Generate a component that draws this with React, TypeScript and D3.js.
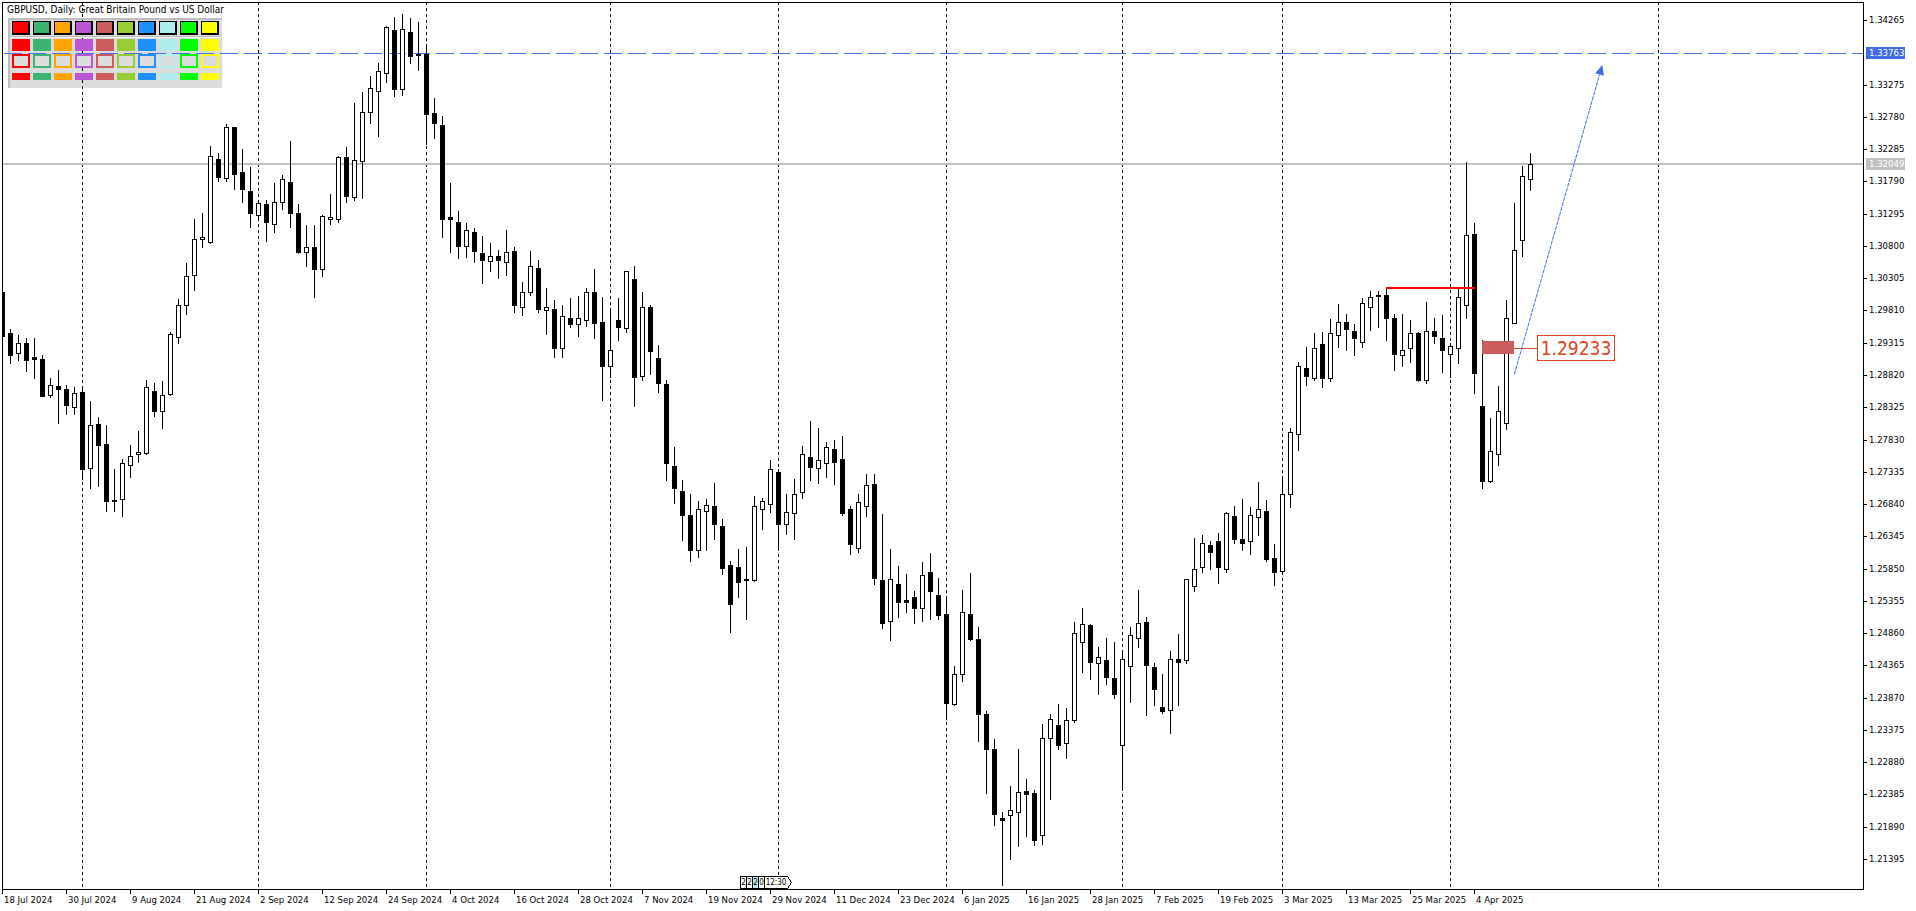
import React from 'react';
import * as d3 from 'd3';

const W = 1916;
const H = 911;
const PL = 2, PT = 2, PR = 1863, PB = 889;

const opens = [
  1.3009, 1.2946, 1.2916, 1.2931, 1.2909, 1.2907, 1.2852, 1.2865, 1.2860, 1.2833,
  1.2856, 1.2739, 1.2807, 1.2776, 1.2690, 1.2692, 1.2744, 1.2760, 1.2763, 1.2858,
  1.2827, 1.2853, 1.2940, 1.2990, 1.3035, 1.3091, 1.3086, 1.3213, 1.3184, 1.3262,
  1.3193, 1.3164, 1.3127, 1.3144, 1.3113, 1.3148, 1.3178, 1.3130, 1.3071, 1.3078,
  1.3044, 1.3121, 1.3121, 1.3216, 1.3155, 1.3210, 1.3285, 1.3318, 1.3345, 1.3411,
  1.3320, 1.3408, 1.3375, 1.3375, 1.3284, 1.3265, 1.3124, 1.3116, 1.3080, 1.3101,
  1.3069, 1.3057, 1.3065, 1.3055, 1.3072, 1.2986, 1.3010, 1.3046, 1.2981, 1.2983,
  1.2923, 1.2970, 1.2960, 1.2967, 1.3009, 1.2964, 1.2895, 1.2967, 1.2954, 1.3029,
  1.2880, 1.2987, 1.2908, 1.2868, 1.2742, 1.2704, 1.2667, 1.2613, 1.2674, 1.2681,
  1.2650, 1.2590, 1.2587, 1.2569, 1.2568, 1.2676, 1.2684, 1.2733, 1.2654, 1.2671,
  1.2702, 1.2756, 1.2739, 1.2747, 1.2768, 1.2753, 1.2676, 1.2616, 1.2681, 1.2714,
  1.2568, 1.2504, 1.2562, 1.2537, 1.2542, 1.2524, 1.2579, 1.2544, 1.2515, 1.2378,
  1.2424, 1.2515, 1.2477, 1.2362, 1.2308, 1.2202, 1.2207, 1.2211, 1.2244, 1.2240,
  1.2176, 1.2325, 1.2345, 1.2318, 1.2352, 1.2473, 1.2498, 1.2440, 1.2444, 1.2417,
  1.2314, 1.2435, 1.2478, 1.2503, 1.2434, 1.2372, 1.2368, 1.2446, 1.2444, 1.2559,
  1.2588, 1.2621, 1.2627, 1.2584, 1.2665, 1.2631, 1.2628, 1.2664, 1.2673, 1.2601,
  1.2582, 1.2700, 1.2792, 1.2892, 1.2877, 1.2929, 1.2878, 1.2944, 1.2964, 1.2949,
  1.2933, 1.2986, 1.3004, 1.3004, 1.2969, 1.2912, 1.2923, 1.2946, 1.2875, 1.2949,
  1.2938, 1.2914, 1.2924, 1.2989, 1.3098, 1.2834, 1.2720, 1.2760, 1.2808, 1.2962,
  1.3089, 1.3182,
];
const highs = [
  1.3012, 1.2953, 1.2943, 1.2939, 1.2939, 1.2913, 1.2878, 1.2889, 1.2867, 1.2864,
  1.2864, 1.2842, 1.2818, 1.2805, 1.2738, 1.2753, 1.2775, 1.2796, 1.2875, 1.2870,
  1.2873, 1.2948, 1.2999, 1.3053, 1.3121, 1.3130, 1.3233, 1.3223, 1.3267, 1.3263,
  1.3229, 1.3201, 1.3150, 1.3150, 1.3177, 1.3188, 1.3241, 1.3144, 1.3112, 1.3112,
  1.3127, 1.3160, 1.3218, 1.3231, 1.3299, 1.3316, 1.3341, 1.3360, 1.3417, 1.3431,
  1.3435, 1.3429, 1.3423, 1.3389, 1.3307, 1.3279, 1.3177, 1.3134, 1.3115, 1.3107,
  1.3095, 1.3084, 1.3074, 1.3104, 1.3078, 1.3024, 1.3072, 1.3058, 1.3016, 1.2997,
  1.2989, 1.3000, 1.3003, 1.3015, 1.3044, 1.3001, 1.2984, 1.3000, 1.3041, 1.3049,
  1.3010, 1.2990, 1.2928, 1.2875, 1.2772, 1.2721, 1.2699, 1.2688, 1.2691, 1.2716,
  1.2661, 1.2596, 1.2615, 1.2618, 1.2696, 1.2693, 1.2751, 1.2737, 1.2700, 1.2722,
  1.2773, 1.2812, 1.2800, 1.2779, 1.2783, 1.2789, 1.2681, 1.2700, 1.2730, 1.2730,
  1.2668, 1.2615, 1.2589, 1.2577, 1.2551, 1.2595, 1.2609, 1.2571, 1.2543, 1.2436,
  1.2552, 1.2578, 1.2495, 1.2367, 1.2324, 1.2212, 1.2252, 1.2308, 1.2262, 1.2245,
  1.2347, 1.2362, 1.2377, 1.2371, 1.2503, 1.2525, 1.2500, 1.2464, 1.2478, 1.2472,
  1.2460, 1.2496, 1.2552, 1.2511, 1.2440, 1.2423, 1.2458, 1.2485, 1.2569, 1.2632,
  1.2637, 1.2627, 1.2640, 1.2672, 1.2681, 1.2691, 1.2680, 1.2718, 1.2690, 1.2623,
  1.2726, 1.2801, 1.2902, 1.2925, 1.2947, 1.2948, 1.2968, 1.2991, 1.2976, 1.2960,
  1.3000, 1.3011, 1.3011, 1.3015, 1.2975, 1.2975, 1.2967, 1.2948, 1.2994, 1.2969,
  1.2974, 1.2931, 1.3016, 1.3209, 1.3115, 1.2935, 1.2816, 1.2865, 1.2997, 1.3146,
  1.3203, 1.3223,
];
const lows = [
  1.2939, 1.2901, 1.2905, 1.2888, 1.2878, 1.2849, 1.2848, 1.2808, 1.2822, 1.2822,
  1.2723, 1.2708, 1.2711, 1.2674, 1.2674, 1.2666, 1.2726, 1.2748, 1.2761, 1.2819,
  1.2800, 1.2851, 1.2931, 1.2975, 1.3012, 1.3078, 1.3085, 1.3179, 1.3179, 1.3168,
  1.3147, 1.3109, 1.3119, 1.3088, 1.3102, 1.3137, 1.3109, 1.3069, 1.3049, 1.3002,
  1.3034, 1.3114, 1.3116, 1.3147, 1.3150, 1.3154, 1.3268, 1.3249, 1.3332, 1.3310,
  1.3312, 1.3360, 1.3350, 1.3237, 1.3246, 1.3093, 1.3070, 1.3062, 1.3063, 1.3056,
  1.3023, 1.3042, 1.3030, 1.3036, 1.2978, 1.2974, 1.3004, 1.2978, 1.2945, 1.2909,
  1.2909, 1.2956, 1.2941, 1.2957, 1.2938, 1.2844, 1.2879, 1.2935, 1.2948, 1.2835,
  1.2875, 1.2884, 1.2856, 1.2721, 1.2686, 1.2629, 1.2597, 1.2603, 1.2614, 1.2631,
  1.2577, 1.2488, 1.2542, 1.2508, 1.2566, 1.2646, 1.2672, 1.2613, 1.2638, 1.2631,
  1.2694, 1.2721, 1.2717, 1.2725, 1.2714, 1.2667, 1.2608, 1.2611, 1.2666, 1.2562,
  1.2494, 1.2476, 1.2511, 1.2519, 1.2502, 1.2505, 1.2507, 1.2507, 1.2354, 1.2376,
  1.2412, 1.2475, 1.2321, 1.2240, 1.2192, 1.2100, 1.2140, 1.2160, 1.2175, 1.2161,
  1.2162, 1.2231, 1.2309, 1.2294, 1.2349, 1.2427, 1.2415, 1.2393, 1.2408, 1.2387,
  1.2250, 1.2380, 1.2464, 1.2361, 1.2376, 1.2363, 1.2333, 1.2376, 1.2440, 1.2550,
  1.2579, 1.2584, 1.2563, 1.2579, 1.2625, 1.2614, 1.2607, 1.2636, 1.2597, 1.2560,
  1.2576, 1.2680, 1.2767, 1.2867, 1.2875, 1.2863, 1.2872, 1.2925, 1.2920, 1.2912,
  1.2925, 1.2951, 1.2956, 1.2936, 1.2889, 1.2896, 1.2902, 1.2873, 1.2870, 1.2931,
  1.2887, 1.2879, 1.2901, 1.2970, 1.2854, 1.2708, 1.2718, 1.2744, 1.2799, 1.2962,
  1.3064, 1.3165,
];
const closes = [
  1.2942, 1.2912, 1.2931, 1.2905, 1.2906, 1.2850, 1.2867, 1.2861, 1.2836, 1.2855,
  1.2737, 1.2805, 1.2775, 1.2689, 1.2688, 1.2747, 1.2758, 1.2764, 1.2864, 1.2826,
  1.2852, 1.2945, 1.2989, 1.3034, 1.3090, 1.3093, 1.3218, 1.3185, 1.3262, 1.3191,
  1.3168, 1.3130, 1.3146, 1.3116, 1.3148, 1.3182, 1.3130, 1.3071, 1.3079, 1.3044,
  1.3126, 1.3124, 1.3217, 1.3157, 1.3211, 1.3285, 1.3322, 1.3348, 1.3415, 1.3320,
  1.3412, 1.3371, 1.3373, 1.3283, 1.3268, 1.3122, 1.3121, 1.3080, 1.3104, 1.3072,
  1.3058, 1.3065, 1.3058, 1.3071, 1.2989, 1.3010, 1.3049, 1.2983, 1.2986, 1.2923,
  1.2972, 1.2960, 1.2969, 1.3009, 1.2962, 1.2895, 1.2920, 1.2956, 1.3041, 1.2879,
  1.2986, 1.2918, 1.2869, 1.2747, 1.2708, 1.2667, 1.2614, 1.2677, 1.2682, 1.2653,
  1.2586, 1.2531, 1.2565, 1.2567, 1.2681, 1.2688, 1.2737, 1.2654, 1.2672, 1.2699,
  1.2760, 1.2741, 1.2751, 1.2771, 1.2749, 1.2671, 1.2622, 1.2687, 1.2713, 1.2571,
  1.2501, 1.2569, 1.2534, 1.2534, 1.2525, 1.2575, 1.2550, 1.2514, 1.2379, 1.2423,
  1.2519, 1.2477, 1.2362, 1.2309, 1.2208, 1.2200, 1.2214, 1.2242, 1.2239, 1.2168,
  1.2325, 1.2354, 1.2315, 1.2352, 1.2486, 1.2500, 1.2441, 1.2450, 1.2418, 1.2392,
  1.2446, 1.2483, 1.2502, 1.2437, 1.2400, 1.2366, 1.2447, 1.2441, 1.2569, 1.2585,
  1.2625, 1.2611, 1.2587, 1.2670, 1.2631, 1.2625, 1.2667, 1.2676, 1.2599, 1.2579,
  1.2700, 1.2794, 1.2895, 1.2881, 1.2923, 1.2878, 1.2946, 1.2963, 1.2953, 1.2938,
  1.2992, 1.3001, 1.3003, 1.2970, 1.2914, 1.2921, 1.2946, 1.2874, 1.2949, 1.2942,
  1.2920, 1.2926, 1.3001, 1.3096, 1.2885, 1.2720, 1.2766, 1.2826, 1.2970, 1.3074,
  1.3187, 1.32049,
];

const priceTicks = [
  1.34265, 1.3377, 1.33275, 1.3278, 1.32285, 1.3179, 1.31295, 1.308, 1.30305,
  1.2981, 1.29315, 1.2882, 1.28325, 1.2783, 1.27335, 1.2684, 1.26345, 1.2585,
  1.25355, 1.2486, 1.24365, 1.2387, 1.23375, 1.2288, 1.22385, 1.2189, 1.21395,
];
const dateTickIdx = [0, 8, 16, 24, 32, 40, 48, 56, 64, 72, 80, 88, 96, 104, 112, 120, 128, 136, 144, 152, 160, 168, 176, 184];
const dateTickLabels = [
  '18 Jul 2024', '30 Jul 2024', '9 Aug 2024', '21 Aug 2024', '2 Sep 2024', '12 Sep 2024',
  '24 Sep 2024', '4 Oct 2024', '16 Oct 2024', '28 Oct 2024', '7 Nov 2024', '19 Nov 2024',
  '29 Nov 2024', '11 Dec 2024', '23 Dec 2024', '6 Jan 2025', '16 Jan 2025', '28 Jan 2025',
  '7 Feb 2025', '19 Feb 2025', '3 Mar 2025', '13 Mar 2025', '25 Mar 2025', '4 Apr 2025',
];
const monthSepIdx = [10, 32, 53, 76, 97, 118, 140, 160, 181, 207];

const bidPrice = 1.32049;
const targetPrice = 1.33763;
const resistLine = { from: 173, to: 184, price: 1.3016 };
const zone = { from: 185, to: 188.9, top: 1.29341, bottom: 1.29147, label: '1.29233' };
const trendLine = { i1: 189, p1: 1.2883, i2: 200, p2: 1.33575 };
const panelColors = ['#FF0000', '#3CB371', '#FFA500', '#BA55D3', '#CD5C5C', '#9ACD32', '#1E90FF', '#AFEEEE', '#00FF00', '#FFFF00'];
const title = 'GBPUSD, Daily:  Great Britain Pound vs US Dollar';

const FONT = "'DejaVu Sans Condensed', 'Liberation Sans Narrow', 'DejaVu Sans', sans-serif";

export default function App() {
  const xs = d3.scaleLinear().domain([0, 232]).range([2.3, 2.3 + 232 * 8]);
  const ys = d3.scaleLinear().domain([1.21395, 1.34265]).range([859, 20]);
  const bx = (i: number) => Math.round(xs(i));
  const by = (p: number) => Math.round(ys(p));

  const candles = opens.map((o, i) => {
    const c = closes[i];
    const cx = bx(i);
    const yO = by(o), yC = by(c), yH = by(highs[i]), yL = by(lows[i]);
    const top = Math.min(yO, yC), bot = Math.max(yO, yC);
    const bull = c >= o;
    let body;
    if (bot - top < 2) {
      body = <rect x={cx - 2} y={top} width={5} height={Math.max(1, bot - top + 1)} fill="#000" />;
    } else if (bull) {
      body = <rect x={cx - 1.5} y={top + 0.5} width={4} height={bot - top} fill="#fff" stroke="#000" strokeWidth={1} />;
    } else {
      body = <rect x={cx - 2} y={top} width={5} height={bot - top + 1} fill="#000" />;
    }
    return (
      <g key={i}>
        <line x1={cx + 0.5} x2={cx + 0.5} y1={yH} y2={yL + 1} stroke="#000" strokeWidth={1} />
        {body}
      </g>
    );
  });

  const yBid = by(bidPrice);
  const yTarget = by(targetPrice);
  const zx1 = xs(zone.from), zx2 = xs(zone.to);
  const zy1 = by(zone.top), zy2 = by(zone.bottom);
  const zMid = Math.round((zy1 + zy2) / 2);
  const boxX = Math.round(zx2) + 23;

  const tx1 = xs(trendLine.i1), ty1 = ys(trendLine.p1);
  const tx2 = xs(trendLine.i2), ty2 = ys(trendLine.p2);
  const ang = Math.atan2(ty2 - ty1, tx2 - tx1);
  const ah = 10, aw = 4.5;
  const bxA = tx2 - ah * Math.cos(ang), byA = ty2 - ah * Math.sin(ang);
  const arrow = `M${tx2},${ty2} L${bxA - aw * Math.sin(ang)},${byA + aw * Math.cos(ang)} L${bxA + aw * Math.sin(ang)},${byA - aw * Math.cos(ang)} Z`;

  const cellX = (k: number) => 12 + 21 * k;

  const smallBoxes = ['2', '2', '2', '0'];

  return (
    <svg width={W} height={H} style={{ position: 'absolute', left: 0, top: 0, display: 'block', background: '#fff' }}
      fontFamily={FONT} shapeRendering="crispEdges">
      <defs>
        <clipPath id="plot">
          <rect x={PL} y={PT} width={PR - PL} height={PB - PT} />
        </clipPath>
      </defs>
      <rect x={0} y={0} width={W} height={H} fill="#fff" />

      {/* panel background */}
      <rect x={8} y={18} width={214} height={70} fill="#DCDCDC" />
      <line x1={8} x2={222} y1={18.5} y2={18.5} stroke="#BDBDBD" strokeWidth={2} />
      <line x1={8.5} x2={8.5} y1={18} y2={88} stroke="#BDBDBD" strokeWidth={2} />
      <line x1={10} x2={221} y1={36.5} y2={36.5} stroke="#BDBDBD" />
      <line x1={10} x2={221} y1={37.5} y2={37.5} stroke="#F4F4F4" />

      <g clipPath="url(#plot)">
        {monthSepIdx.map((m) => (
          <line key={m} x1={bx(m) + 0.5} x2={bx(m) + 0.5} y1={PT} y2={PB} stroke="#000" strokeDasharray="3,3" />
        ))}
        <line x1={PL} x2={PR} y1={yTarget + 0.5} y2={yTarget + 0.5} stroke="#4472E4" strokeDasharray="18,6" strokeDashoffset={-2} />
        <line x1={PL} x2={PR} y1={yBid} y2={yBid} stroke="#C0C0C0" strokeWidth={2} />
        {candles}
        <line x1={bx(resistLine.from)} x2={bx(resistLine.to) + 1} y1={by(resistLine.price)} y2={by(resistLine.price)} stroke="#FF0000" strokeWidth={2} />
        <rect x={zx1} y={zy1} width={zx2 - zx1} height={zy2 - zy1} fill="#CD5C5C" />
        <line x1={zx2} x2={boxX} y1={zMid + 0.5} y2={zMid + 0.5} stroke="#D9442A" />
        <rect x={boxX + 0.5} y={zMid - 12.5} width={77} height={25} fill="#fff" stroke="#E2421E" strokeWidth={1.5} />
        <text x={boxX + 39} y={zMid} dy="0.36em" textAnchor="middle" fontSize={19} fill="#E2421E" style={{ fontStretch: 'condensed' }}>{zone.label}</text>
        <line x1={tx1} y1={ty1} x2={bxA} y2={byA} stroke="#3E6BE0" strokeWidth={1} strokeDasharray="4,1" shapeRendering="auto" />
        <path d={arrow} fill="#3E6BE0" shapeRendering="auto" />
      </g>

      {/* panel cells */}
      {panelColors.map((c, k) => (
        <g key={k}>
          <rect x={cellX(k) - 0.5} y={21} width={18} height={13.5} fill="#000" />
          <rect x={cellX(k) + 1} y={22} width={14.5} height={10.5} fill={c} />
          <rect x={cellX(k)} y={38.5} width={17.5} height={12.5} fill={c} />
          <rect x={cellX(k) + 0.5} y={55} width={16.5} height={12} fill="#DCDCDC" stroke={c} strokeWidth={2} />
          <rect x={cellX(k)} y={72.5} width={17.5} height={7.5} fill={c} />
        </g>
      ))}

      <text x={7} y={12.5} fontSize={10} fill="#000" style={{ fontStretch: 'condensed' }}>{title}</text>

      {/* frame */}
      <rect x={PL + 0.5} y={PT + 0.5} width={PR - PL} height={PB - PT} fill="none" stroke="#000" />

      {/* price axis */}
      {priceTicks.filter((p) => Math.abs(ys(p) - yTarget) > 9).map((p) => (
        <g key={p}>
          <line x1={PR} x2={PR + 4} y1={by(p) + 0.5} y2={by(p) + 0.5} stroke="#000" />
          <text x={PR + 6} y={by(p)} dy="0.36em" fontSize={9.5} fill="#000" style={{ fontStretch: 'condensed' }}>{p.toFixed(5)}</text>
        </g>
      ))}
      <rect x={PR + 3} y={yTarget - 6} width={39} height={12} fill="#4169E1" />
      <text x={PR + 6} y={yTarget} dy="0.36em" fontSize={9.5} fill="#fff" style={{ fontStretch: 'condensed' }}>{targetPrice.toFixed(5)}</text>
      <rect x={PR + 3} y={yBid - 6} width={39} height={12} fill="#C0C0C0" />
      <text x={PR + 6} y={yBid} dy="0.36em" fontSize={9.5} fill="#fff" style={{ fontStretch: 'condensed' }}>{bidPrice.toFixed(5)}</text>

      {/* time axis */}
      {dateTickIdx.map((d, k) => (
        <g key={d}>
          <line x1={bx(d) + 0.5} x2={bx(d) + 0.5} y1={PB} y2={PB + 5} stroke="#000" />
          <text x={bx(d) + 2} y={900} dy="0.36em" fontSize={9.5} fill="#000" style={{ fontStretch: 'condensed' }}>{dateTickLabels[k]}</text>
        </g>
      ))}

      {/* small boxes */}
      {smallBoxes.map((s, k) => (
        <g key={k}>
          <rect x={740.5 + 6 * k} y={876.5} width={6} height={12} fill={k === 2 ? '#AFEEEE' : '#fff'} stroke="#000" />
          <text x={743.5 + 6 * k} y={882.5} dy="0.36em" textAnchor="middle" fontSize={8} fill="#000">{s}</text>
        </g>
      ))}
      <path d="M764.5,876.5 L787.5,876.5 L791.5,882.5 L787.5,888.5 L764.5,888.5 Z" fill="#fff" stroke="#000" />
      <text x={776} y={882.5} dy="0.36em" textAnchor="middle" fontSize={8} fill="#000">12:30</text>
    </svg>
  );
}
